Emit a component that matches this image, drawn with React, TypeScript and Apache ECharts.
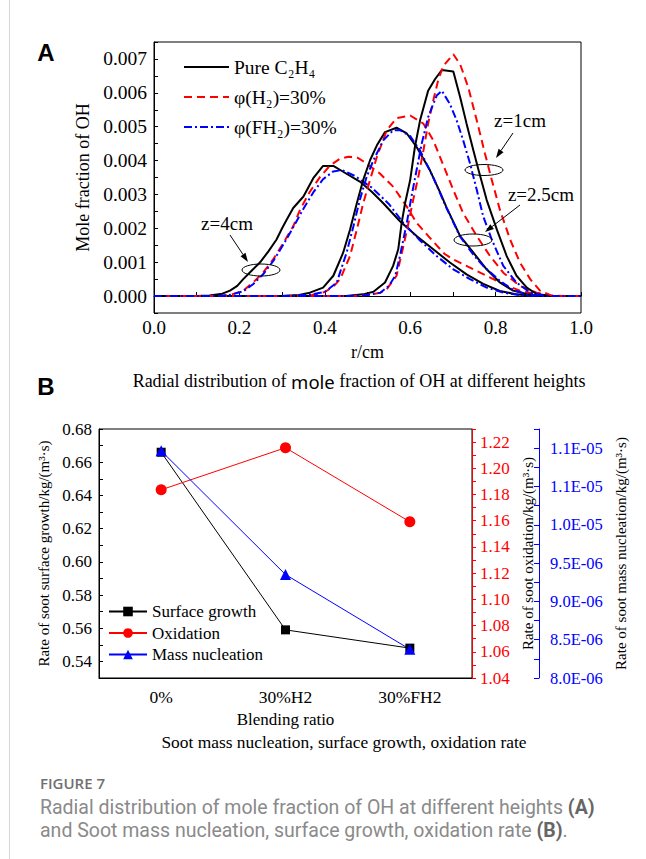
import React, { useEffect, useRef } from 'react';
import * as echarts from 'echarts';

const SERIF = '"Liberation Serif", "Times New Roman", serif';
const SANS = '"Open Sans", "Noto Sans", sans-serif';
const CAP = 'Roboto, "Open Sans", sans-serif';

// ---------- Panel A data: [r (cm), OH mole fraction] ----------
const legendA = ['Pure C\u2082H\u2084', '\u03c6(H\u2082)=30%', '\u03c6(FH\u2082)=30%'];

const pureZ4 = [[0,0],[0.1,0],[0.13,0.00002],[0.16,0.00007],[0.178,0.00016],[0.195,0.0003],[0.209,0.0005],[0.228,0.00074],[0.248,0.00099],[0.268,0.00132],[0.287,0.00167],[0.3,0.002],[0.311,0.00226],[0.326,0.0026],[0.35,0.00294],[0.373,0.00348],[0.396,0.00384],[0.42,0.00384],[0.443,0.00367],[0.482,0.00338],[0.51,0.00308],[0.537,0.00274],[0.576,0.00221],[0.615,0.00177],[0.654,0.00138],[0.693,0.00099],[0.732,0.00064],[0.771,0.00036],[0.81,0.00015],[0.849,0.00005],[0.88,0.00001],[0.92,0],[1,0]];
const h2Z4 = [[0,0],[0.15,0],[0.18,0.00004],[0.209,0.00016],[0.232,0.0004],[0.256,0.0007],[0.279,0.00108],[0.303,0.00157],[0.326,0.00206],[0.342,0.00255],[0.365,0.00308],[0.389,0.00352],[0.412,0.00385],[0.435,0.00405],[0.455,0.00411],[0.475,0.0041],[0.49,0.00398],[0.529,0.00362],[0.56,0.00323],[0.592,0.00264],[0.615,0.00216],[0.646,0.00172],[0.68,0.00125],[0.701,0.00108],[0.74,0.00084],[0.779,0.0006],[0.818,0.00035],[0.857,0.00016],[0.896,0.00005],[0.93,0],[1,0]];
const fh2Z4 = [[0,0],[0.15,0],[0.18,0.00004],[0.209,0.00014],[0.232,0.00035],[0.256,0.00065],[0.279,0.00103],[0.303,0.00152],[0.326,0.00203],[0.35,0.00258],[0.373,0.00306],[0.396,0.00345],[0.42,0.00368],[0.44,0.00372],[0.47,0.00355],[0.51,0.0032],[0.55,0.00272],[0.584,0.00216],[0.62,0.00168],[0.662,0.00118],[0.701,0.00079],[0.74,0.0005],[0.779,0.00025],[0.818,0.0001],[0.86,0.00002],[0.9,0],[1,0]];

const pureZ25 = [[0,0],[0.3,0],[0.34,0.00003],[0.365,0.0001],[0.396,0.00025],[0.42,0.0006],[0.443,0.00128],[0.459,0.00196],[0.475,0.00274],[0.49,0.00343],[0.506,0.00401],[0.522,0.00445],[0.541,0.00484],[0.568,0.00497],[0.592,0.0048],[0.615,0.0044],[0.646,0.00372],[0.67,0.00306],[0.685,0.00262],[0.717,0.00177],[0.748,0.00128],[0.779,0.00079],[0.81,0.0004],[0.841,0.00016],[0.873,0.00006],[0.9,0.00001],[0.93,0],[1,0]];
const h2Z25 = [[0,0],[0.32,0],[0.37,0.00003],[0.4,0.00012],[0.42,0.00028],[0.436,0.0005],[0.459,0.00118],[0.475,0.00196],[0.49,0.00274],[0.506,0.00343],[0.522,0.00411],[0.545,0.00489],[0.568,0.00525],[0.6,0.00533],[0.631,0.00509],[0.654,0.0046],[0.678,0.00385],[0.701,0.00313],[0.724,0.00245],[0.756,0.00177],[0.787,0.00118],[0.818,0.00069],[0.857,0.0003],[0.896,0.0001],[0.93,0.00001],[0.96,0],[1,0]];
const fh2Z25 = [[0,0],[0.3,0],[0.36,0.00003],[0.4,0.00012],[0.428,0.0004],[0.451,0.00128],[0.467,0.00206],[0.482,0.00284],[0.498,0.00352],[0.514,0.00401],[0.537,0.0046],[0.56,0.00489],[0.576,0.0049],[0.6,0.00472],[0.623,0.0043],[0.654,0.0035],[0.685,0.0026],[0.717,0.00175],[0.748,0.00122],[0.771,0.00089],[0.81,0.00045],[0.841,0.00018],[0.873,0.00005],[0.91,0],[1,0]];

const pureZ1 = [[0,0],[0.45,0],[0.49,0.00005],[0.514,0.00013],[0.541,0.0004],[0.56,0.00089],[0.572,0.00138],[0.58,0.00216],[0.588,0.00274],[0.6,0.00343],[0.611,0.0044],[0.623,0.00518],[0.642,0.00606],[0.658,0.0064],[0.674,0.00667],[0.701,0.00663],[0.717,0.00587],[0.732,0.00509],[0.748,0.0043],[0.76,0.00372],[0.779,0.00284],[0.803,0.00196],[0.826,0.00118],[0.849,0.0006],[0.873,0.00025],[0.896,0.00006],[0.93,0],[1,0]];
const h2Z1 = [[0,0],[0.46,0],[0.5,0.00003],[0.53,0.0001],[0.545,0.0002],[0.568,0.0006],[0.584,0.00147],[0.596,0.00216],[0.607,0.00284],[0.619,0.00352],[0.631,0.0043],[0.642,0.00509],[0.654,0.00577],[0.666,0.0064],[0.678,0.0068],[0.701,0.00714],[0.717,0.00684],[0.736,0.00616],[0.756,0.00518],[0.775,0.00421],[0.791,0.00343],[0.81,0.00255],[0.834,0.00167],[0.857,0.00099],[0.881,0.0005],[0.904,0.00016],[0.93,0.00002],[0.96,0],[1,0]];
const fh2Z1 = [[0,0],[0.46,0],[0.5,0.00003],[0.53,0.0001],[0.55,0.0003],[0.565,0.0006],[0.576,0.00118],[0.592,0.00216],[0.603,0.00294],[0.615,0.00372],[0.627,0.0045],[0.642,0.00528],[0.662,0.00592],[0.674,0.00606],[0.693,0.00567],[0.709,0.00518],[0.724,0.0046],[0.74,0.00392],[0.756,0.00313],[0.771,0.00235],[0.791,0.00167],[0.818,0.00089],[0.849,0.0004],[0.881,0.0001],[0.92,0],[1,0]];

// ---------- Panel B data ----------
const blendCats = ['0%', '30%H2', '30%FH2'];
const legendB = ['Surface growth', 'Oxidation', 'Mass nucleation'];
const surfaceGrowth = [0.666, 0.559, 0.548];
const oxidation = [1.1836, 1.2157, 1.1592];
const massNucleation = [1.0965e-5, 9.35e-6, 8.375e-6];

const STYLES: any = {
  pure: { color: '#000000', type: 'solid', width: 2 },
  h2: { color: '#ff0000', type: [8, 5], width: 2 },
  fh2: { color: '#0000ff', type: [8, 3, 2, 3], width: 2 },
};

function lineA(name: string, data: number[][], key: string) {
  const s = STYLES[key];
  return {
    type: 'line', name, data, xAxisIndex: 0, yAxisIndex: 0,
    symbol: 'none', smooth: false, color: s.color,
    lineStyle: { color: s.color, type: s.type, width: s.width },
  };
}

function arrow(x1: number, y1: number, x2: number, y2: number) {
  const a = Math.atan2(y2 - y1, x2 - x1);
  const L = 9, W = 3;
  const c = Math.cos(a), s = Math.sin(a);
  const bx = x2 - L * c, by = y2 - L * s;
  return [
    { type: 'line', z: 100, shape: { x1, y1, x2: bx, y2: by }, style: { stroke: '#000', lineWidth: 1 } },
    { type: 'polygon', z: 100, shape: { points: [[x2, y2], [bx - W * s, by + W * c], [bx + W * s, by - W * c]] }, style: { fill: '#000' } },
  ];
}

function ell(cx: number, cy: number, rx: number, ry: number) {
  return { type: 'ellipse', z: 100, shape: { cx, cy, rx, ry }, style: { fill: 'none', stroke: '#000', lineWidth: 1 } };
}

function txt(x: number, y: number, text: string, font: string, fill = '#000', align = 'center', rich?: any, lineHeight?: number) {
  return {
    type: 'text', z: 100, x, y,
    style: { text, font, fill, align, verticalAlign: 'middle', textAlign: align, textVerticalAlign: 'middle', rich, lineHeight },
  };
}

function expFmt(v: number) {
  const k = Math.round(v / 0.25e-6);
  if (k % 2 !== 0) return '';
  const e = Math.floor(Math.log10(v) + 1e-9);
  const m = v / Math.pow(10, e);
  const mm = (Math.round(m * 10 + 1e-6) / 10).toFixed(1);
  const sign = e < 0 ? '-' : '+';
  return `${mm}E${sign}${String(Math.abs(e)).padStart(2, '0')}`;
}

export default function App() {
  const ref = useRef<HTMLDivElement>(null);
  useEffect(() => {
    document.body.style.margin = '0';
    const chart = echarts.init(ref.current!, null, { renderer: 'svg' });
    const capRich = {
      n: { fontFamily: CAP, fontSize: 19.5, lineHeight: 23, fill: '#8a8a8a', color: '#8a8a8a' },
      b: { fontFamily: CAP, fontSize: 19.5, lineHeight: 23, fontWeight: 'bold', fill: '#666', color: '#666' },
    };
    const option: any = {
      animation: false,
      backgroundColor: '#ffffff',
      grid: [
        { left: 154, top: 42, width: 427, height: 271, show: true, borderColor: '#000', borderWidth: 1, backgroundColor: 'transparent' },
        { left: 99, top: 429, width: 373, height: 249, show: true, borderColor: '#000', borderWidth: 1, backgroundColor: 'transparent' },
      ],
      legend: [
        {
          data: legendA, left: 183, top: 57, padding: 0, orient: 'vertical', itemWidth: 45, itemHeight: 14, itemGap: 10,
          itemStyle: { opacity: 0 },
          textStyle: { fontFamily: SERIF, fontSize: 19.5, color: '#000' },
        },
        {
          data: legendB, left: 108, top: 603, padding: 0, orient: 'vertical', itemWidth: 38, itemHeight: 12, itemGap: 4.5,
          textStyle: { fontFamily: SERIF, fontSize: 17, color: '#000' },
        },
      ],
      xAxis: [
        {
          type: 'value', gridIndex: 0, min: 0, max: 1, interval: 0.1,
          name: 'r/cm', nameLocation: 'middle', nameGap: 30,
          nameTextStyle: { fontFamily: SERIF, fontSize: 18, color: '#000' },
          axisLine: { lineStyle: { color: '#000', width: 1 } },
          axisTick: { inside: true, length: 4, lineStyle: { color: '#000' } },
          splitLine: { show: false },
          axisLabel: {
            fontFamily: SERIF, fontSize: 19, color: '#000', margin: 5,
            formatter: (v: number) => { const k = Math.round(v * 10); return k % 2 === 0 ? (k / 10).toFixed(1) : ''; },
          },
        },
        {
          type: 'category', gridIndex: 1, data: blendCats, boundaryGap: true,
          name: 'Blending ratio', nameLocation: 'middle', nameGap: 33,
          nameTextStyle: { fontFamily: SERIF, fontSize: 17, color: '#000' },
          axisLine: { lineStyle: { color: '#000', width: 1 } },
          axisTick: { inside: true, length: 4, lineStyle: { color: '#000' } },
          axisLabel: { fontFamily: SERIF, fontSize: 17.5, color: '#000', margin: 10 },
        },
      ],
      yAxis: [
        {
          type: 'value', gridIndex: 0, min: -0.0005, max: 0.0075, interval: 0.0005,
          name: 'Mole fraction of OH', nameLocation: 'middle', nameGap: 60,
          nameTextStyle: { fontFamily: SERIF, fontSize: 18, color: '#000' },
          axisLine: { show: true, lineStyle: { color: '#000', width: 1 } },
          axisTick: { show: true, inside: true, length: 4, lineStyle: { color: '#000' } },
          splitLine: { show: false },
          axisLabel: {
            fontFamily: SERIF, fontSize: 19.5, color: '#000', margin: 7,
            formatter: (v: number) => { const k = Math.round(v / 0.0005); return k >= 0 && k % 2 === 0 ? (k * 0.0005).toFixed(3) : ''; },
          },
        },
        {
          type: 'value', gridIndex: 1, position: 'left', min: 0.53, max: 0.68, interval: 0.01,
          name: 'Rate of soot surface growth/kg/(m\u00b3\u00b7s)', nameLocation: 'middle', nameGap: 42,
          nameTextStyle: { fontFamily: SERIF, fontSize: 15, color: '#000' },
          axisLine: { show: true, lineStyle: { color: '#000', width: 1 } },
          axisTick: { show: true, inside: true, length: 4, lineStyle: { color: '#000' } },
          splitLine: { show: false },
          axisLabel: {
            fontFamily: SERIF, fontSize: 17, color: '#000', margin: 7,
            formatter: (v: number) => { const k = Math.round(v * 100); return k % 2 === 0 ? (k / 100).toFixed(2) : ''; },
          },
        },
        {
          type: 'value', gridIndex: 1, position: 'right', min: 1.04, max: 1.23, interval: 0.01,
          name: 'Rate of soot oxidation/kg/(m\u00b3\u00b7s)', nameLocation: 'middle', nameGap: 30,
          nameTextStyle: { fontFamily: SERIF, fontSize: 15, color: '#000' },
          axisLine: { show: true, lineStyle: { color: '#ff0000', width: 1 } },
          axisTick: { show: true, inside: false, length: 4, lineStyle: { color: '#ff0000' } },
          splitLine: { show: false },
          axisLabel: {
            fontFamily: SERIF, fontSize: 17, color: '#ff0000', margin: 8,
            formatter: (v: number) => { const k = Math.round(v * 100); return k % 2 === 0 ? (k / 100).toFixed(2) : ''; },
          },
        },
        {
          type: 'value', gridIndex: 1, position: 'right', offset: 67, min: 8e-6, max: 11.25e-6, interval: 0.25e-6,
          name: 'Rate of soot mass nucleation/kg/(m\u00b3\u00b7s)', nameLocation: 'middle', nameGap: 43,
          nameTextStyle: { fontFamily: SERIF, fontSize: 15, color: '#000' },
          axisLine: { show: true, lineStyle: { color: '#0000ff', width: 1 } },
          axisTick: { show: true, inside: true, length: 5, lineStyle: { color: '#0000ff' } },
          splitLine: { show: false },
          axisLabel: { fontFamily: SERIF, fontSize: 16.5, color: '#0000ff', margin: 11, formatter: expFmt },
        },
      ],
      series: [
        lineA(legendA[0], pureZ4, 'pure'),
        lineA(legendA[1], h2Z4, 'h2'),
        lineA(legendA[2], fh2Z4, 'fh2'),
        lineA(legendA[0], pureZ25, 'pure'),
        lineA(legendA[1], h2Z25, 'h2'),
        lineA(legendA[2], fh2Z25, 'fh2'),
        lineA(legendA[0], pureZ1, 'pure'),
        lineA(legendA[1], h2Z1, 'h2'),
        lineA(legendA[2], fh2Z1, 'fh2'),
        {
          type: 'line', name: legendB[0], data: surfaceGrowth, xAxisIndex: 1, yAxisIndex: 1,
          symbol: 'rect', symbolSize: 9, color: '#000', lineStyle: { color: '#000', width: 1 }, itemStyle: { color: '#000' },
        },
        {
          type: 'line', name: legendB[1], data: oxidation, xAxisIndex: 1, yAxisIndex: 2,
          symbol: 'circle', symbolSize: 11, color: '#ff0000', lineStyle: { color: '#ff0000', width: 1 }, itemStyle: { color: '#ff0000' },
        },
        {
          type: 'line', name: legendB[2], data: massNucleation, xAxisIndex: 1, yAxisIndex: 3,
          symbol: 'triangle', symbolSize: 11, color: '#0000ff', lineStyle: { color: '#0000ff', width: 1 }, itemStyle: { color: '#0000ff' },
        },
      ],
      graphic: [
        { type: 'line', shape: { x1: 9.5, y1: 0, x2: 9.5, y2: 859 }, style: { stroke: '#d6d6d6', lineWidth: 1 } },
        txt(46, 52, 'A', `bold 24px "Liberation Sans", Arial, sans-serif`),
        txt(46, 386, 'B', `bold 24px "Liberation Sans", Arial, sans-serif`),
        // annotations panel A
        txt(520, 120, 'z=1cm', `19px ${SERIF}`),
        ell(484, 170, 19, 5.5),
        ...arrow(513, 133, 496, 158),
        txt(541, 194, 'z=2.5cm', `19px ${SERIF}`),
        ell(473, 240, 19, 6),
        ...arrow(520, 205, 485, 232),
        txt(227, 223, 'z=4cm', `19px ${SERIF}`),
        ell(261, 270, 19, 6),
        ...arrow(230, 235, 248, 262),
        // subtitles
        txt(359, 381, '{a|Radial distribution of }{b|mole}{a| fraction of OH at different heights}', `18px ${SERIF}`, '#000', 'center', {
          a: { fontFamily: SERIF, fontSize: 18, fill: '#000', color: '#000' },
          b: { fontFamily: '"Noto Sans", sans-serif', fontSize: 18.5, fill: '#000', color: '#000' },
        }),
        txt(344, 742, 'Soot mass nucleation, surface growth, oxidation rate', `17.4px ${SERIF}`),
        // figure caption
        txt(40, 783, 'FIGURE 7', `600 15px ${SANS}`, '#707070', 'left'),
        txt(40, 818.5,
          '{n|Radial distribution of mole fraction of OH at different heights }{b|(A)}\n{n|and Soot mass nucleation, surface growth, oxidation rate }{b|(B)}{n|.}',
          `19.5px ${CAP}`, '#8a8a8a', 'left', capRich, 23),
      ],
    };
    chart.setOption(option);
    return () => chart.dispose();
  }, []);
  return <div ref={ref} style={{ width: 646, height: 859, background: '#fff' }} />;
}
